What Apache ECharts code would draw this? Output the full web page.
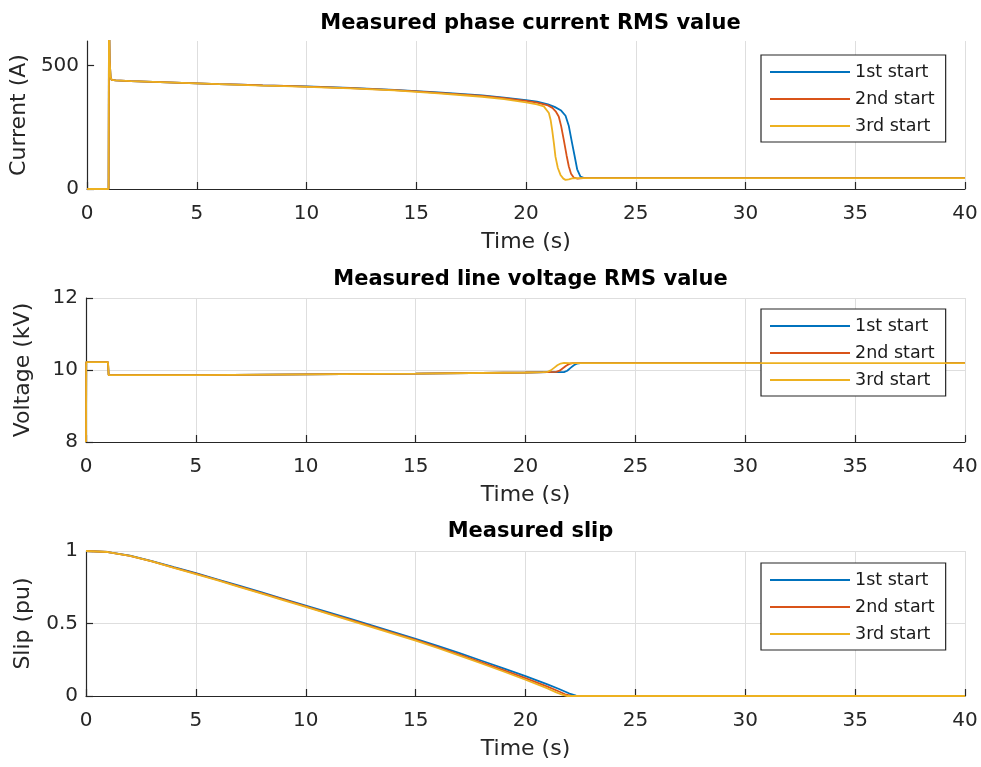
<!DOCTYPE html>
<html>
<head>
<meta charset="utf-8">
<script src="https://cdn.jsdelivr.net/npm/echarts@6/dist/echarts.min.js"></script>
<style>
html,body{margin:0;padding:0;background:#fff;}
#chart{width:981px;height:767px;}
</style>
</head>
<body>
<div id="chart"></div>
<script>
// ---------- data ----------
const seriesNames = ['1st start', '2nd start', '3rd start'];
const xTicks = [0, 5, 10, 15, 20, 25, 30, 35, 40];

// Current (A)
const curT1 = [0, 0.98, 1.0, 1.03, 1.07, 1.12, 1.3, 2, 3, 4, 5, 6, 7, 8, 9, 10, 11, 12, 13, 14, 15, 16, 17, 18, 19, 20, 20.5, 21, 21.3, 21.6, 21.8, 21.95, 22.1, 22.2, 22.33, 22.48, 22.65, 23, 25, 30, 35, 40];
const cur1  = [0, 0, 720, 520, 455, 442, 440, 437, 434, 431, 428, 425, 423, 420, 418, 416, 413, 410, 406, 402, 397, 392, 386, 379, 370, 360, 354, 343, 333, 318, 297, 255, 185, 140, 80, 50, 44, 44, 44, 44, 44, 44];
const curT2 = [0, 0.98, 1.0, 1.03, 1.07, 1.12, 1.3, 2, 3, 4, 5, 6, 7, 8, 9, 10, 11, 12, 13, 14, 15, 16, 17, 18, 19, 20, 20.5, 21, 21.2, 21.35, 21.49, 21.6, 21.72, 21.85, 21.95, 22.05, 22.18, 22.35, 22.6, 23, 25, 30, 35, 40];
const cur2  = [0, 0, 720, 520, 455, 442, 440, 437, 434, 431, 428, 425, 423, 420, 418, 415, 412, 409, 405, 401, 396, 390, 384, 377, 368, 357, 350, 339, 329, 315, 294, 255, 199, 135, 91, 62, 46, 42, 44, 44, 44, 44, 44, 44];
const curT3 = [0, 0.98, 1.0, 1.03, 1.07, 1.12, 1.3, 2, 3, 4, 5, 6, 7, 8, 9, 10, 11, 12, 13, 14, 15, 16, 17, 18, 19, 20, 20.5, 20.81, 21.04, 21.12, 21.19, 21.27, 21.34, 21.45, 21.57, 21.7, 21.8, 21.95, 22.1, 22.5, 25, 30, 35, 40];
const cur3  = [0, 0, 720, 520, 455, 442, 440, 437, 434, 431, 428, 425, 422, 419, 417, 414, 411, 408, 404, 400, 394, 388, 381, 374, 364, 351, 343, 335, 308, 280, 240, 185, 131, 85, 57, 42, 37, 39, 43, 44, 44, 44, 44, 44];

// Voltage (kV)
const volT1 = [0, 0.01, 1.0, 1.03, 2, 5, 10, 15, 20, 21, 21.5, 21.75, 21.9, 22.05, 22.2, 22.35, 22.5, 25, 30, 35, 40];
const vol1  = [8, 10.22, 10.22, 9.86, 9.86, 9.86, 9.88, 9.90, 9.93, 9.94, 9.94, 9.94, 9.98, 10.06, 10.13, 10.18, 10.19, 10.19, 10.19, 10.19, 10.19];
const volT2 = [0, 0.01, 1.0, 1.03, 2, 5, 10, 15, 20, 21, 21.4, 21.55, 21.7, 21.85, 22.0, 22.15, 22.3, 25, 30, 35, 40];
const vol2  = [8, 10.22, 10.22, 9.86, 9.86, 9.86, 9.88, 9.90, 9.93, 9.94, 9.95, 9.98, 10.05, 10.12, 10.17, 10.19, 10.19, 10.19, 10.19, 10.19, 10.19];
const volT3 = [0, 0.01, 1.0, 1.03, 2, 5, 10, 15, 20, 20.8, 21.0, 21.15, 21.3, 21.45, 21.6, 21.75, 22.0, 25, 30, 35, 40];
const vol3  = [8, 10.22, 10.22, 9.86, 9.86, 9.86, 9.88, 9.90, 9.93, 9.94, 9.95, 9.99, 10.06, 10.13, 10.18, 10.2, 10.19, 10.19, 10.19, 10.19, 10.19];

// Slip (pu)
const slipT1 = [0, 1, 2, 3, 4, 5, 6, 7, 8, 9, 10, 11, 12, 13, 14, 15, 16, 17, 18, 19, 20, 21, 21.5, 22, 22.3, 22.5, 25, 30, 35, 40];
const slip1  = [1.0, 0.993, 0.968, 0.93, 0.888, 0.847, 0.803, 0.759, 0.714, 0.669, 0.624, 0.579, 0.533, 0.487, 0.441, 0.394, 0.345, 0.295, 0.243, 0.19, 0.137, 0.08, 0.05, 0.017, 0.002, 0, 0, 0, 0, 0];
const slipT2 = [0, 1, 2, 3, 4, 5, 6, 7, 8, 9, 10, 11, 12, 13, 14, 15, 16, 17, 18, 19, 20, 21, 21.5, 21.8, 22.1, 22.3, 25, 30, 35, 40];
const slip2  = [1.0, 0.993, 0.967, 0.929, 0.886, 0.844, 0.8, 0.755, 0.71, 0.664, 0.618, 0.572, 0.526, 0.48, 0.434, 0.387, 0.337, 0.285, 0.232, 0.178, 0.123, 0.065, 0.033, 0.012, 0.001, 0, 0, 0, 0, 0];
const slipT3 = [0, 1, 2, 3, 4, 5, 6, 7, 8, 9, 10, 11, 12, 13, 14, 15, 16, 17, 18, 19, 20, 21, 21.4, 21.7, 21.9, 22.1, 25, 30, 35, 40];
const slip3  = [1.0, 0.993, 0.967, 0.928, 0.884, 0.841, 0.797, 0.751, 0.706, 0.66, 0.614, 0.568, 0.521, 0.475, 0.429, 0.382, 0.331, 0.278, 0.224, 0.169, 0.112, 0.052, 0.025, 0.007, 0, 0, 0, 0, 0, 0];

const titles = ['Measured phase current RMS value', 'Measured line voltage RMS value', 'Measured slip'];
const yNames = ['Current (A)', 'Voltage (kV)', 'Slip (pu)'];
const xName = 'Time (s)';
const colors = ['#0072BD', '#D95319', '#EDB120'];

// ---------- chart ----------
const zip = (t, v) => t.map((x, i) => [x, v[i]]);
const FONT = 'DejaVu Sans';
const TXT = '#262626';
const GRIDC = '#dedede';

const grids = [
  {left: 86, right: 16, top: 41, height: 148},
  {left: 86, right: 16, top: 298, height: 144},
  {left: 86, right: 16, top: 551, height: 145}
];
const titleTops = [8, 264, 516];
const legendTops = [55, 309, 563];
const yCfg = [
  {min: 0, max: 600, interval: 500},
  {min: 8, max: 12, interval: 2},
  {min: 0, max: 1, interval: 0.5}
];

function xAxis(i) {
  return {
    gridIndex: i, type: 'value', min: 0, max: 40, interval: 5,
    name: xName, nameLocation: 'middle', nameGap: 42,
    nameTextStyle: {fontFamily: FONT, fontSize: 22, color: TXT},
    axisLine: {show: true, onZero: false, lineStyle: {color: TXT, width: 1.2}},
    axisTick: {show: true, inside: true, length: 7, lineStyle: {color: TXT, width: 1.2}},
    axisLabel: {margin: 15, fontFamily: FONT, fontSize: 20, color: TXT},
    splitLine: {show: true, lineStyle: {color: GRIDC, width: 1}}
  };
}
function yAxis(i) {
  const c = yCfg[i];
  const ax = {
    gridIndex: i, type: 'value', min: c.min, max: c.max, interval: c.interval,
    name: yNames[i], nameLocation: 'middle', nameGap: 52, nameRotate: 90,
    nameTextStyle: {fontFamily: FONT, fontSize: 22, color: TXT},
    axisLine: {show: true, onZero: false, lineStyle: {color: TXT, width: 1.2}},
    axisTick: {show: true, inside: true, length: 7, lineStyle: {color: TXT, width: 1.2}},
    axisLabel: {margin: 8, fontFamily: FONT, fontSize: 20, color: TXT},
    splitLine: {show: true, lineStyle: {color: GRIDC, width: 1}}
  };
  if (i === 0) {
    ax.axisLabel.formatter = v => (v === 600 ? '' : String(v));
    ax.axisLabel.customValues = [0, 500];
    ax.axisTick.customValues = [0, 500];
    ax.splitLine.showMaxLine = false;
  }
  return ax;
}

const dataSets = [
  [zip(curT1, cur1), zip(curT2, cur2), zip(curT3, cur3)],
  [zip(volT1, vol1), zip(volT2, vol2), zip(volT3, vol3)],
  [zip(slipT1, slip1), zip(slipT2, slip2), zip(slipT3, slip3)]
];

const series = [];
for (let g = 0; g < 3; g++) {
  for (let s = 0; s < 3; s++) {
    series.push({
      type: 'line', name: seriesNames[s], xAxisIndex: g, yAxisIndex: g,
      data: dataSets[g][s], showSymbol: false, symbol: 'none', clip: true,
      lineStyle: {color: colors[s], width: 1.8}, itemStyle: {color: colors[s]},
      z: 2 + s
    });
  }
}

const option = {
  animation: false,
  backgroundColor: '#ffffff',
  color: colors,
  title: titles.map((t, i) => ({
    text: t, left: 525.5, top: titleTops[i], textAlign: 'center',
    textStyle: {fontFamily: FONT, fontSize: 21, fontWeight: 'bold', color: '#000'}
  })),
  grid: grids,
  xAxis: [0, 1, 2].map(xAxis),
  yAxis: [0, 1, 2].map(yAxis),
  legend: legendTops.map(top => ({
    data: seriesNames, orient: 'vertical', left: 761, top: top,
    itemWidth: 80, itemHeight: 18, itemGap: 9,
    padding: [8, 11, 7, 8],
    backgroundColor: '#fff', borderColor: '#262626', borderWidth: 1.2,
    itemStyle: {opacity: 0},
    lineStyle: {width: 2},
    textStyle: {fontFamily: FONT, fontSize: 17.5, color: '#1a1a1a'},
    selectedMode: false
  })),
  series: series
};

const chart = echarts.init(document.getElementById('chart'), null, {renderer: 'canvas'});
chart.setOption(option);
</script>
</body>
</html>
